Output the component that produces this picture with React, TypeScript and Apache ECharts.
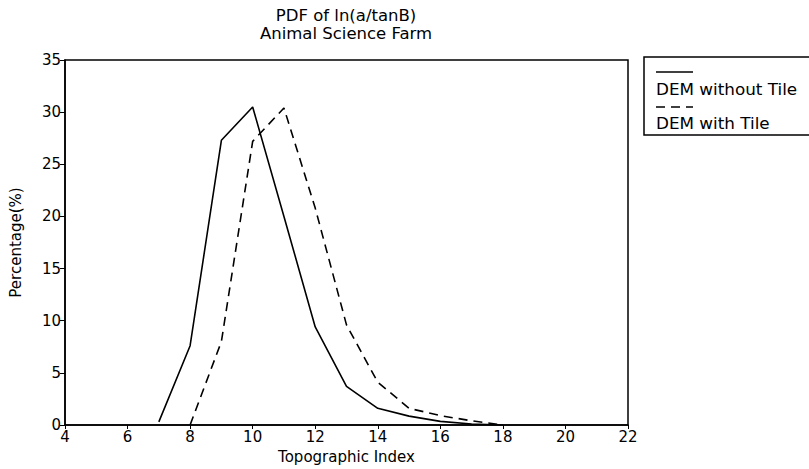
import React, { useEffect, useRef } from "react";
import * as echarts from "echarts";

const titleLines = ["PDF of ln(a/tanB)", "Animal Science Farm"];
const xAxisName = "Topographic Index";
const yAxisName = "Percentage(%)";
const seriesNames = ["DEM without Tile", "DEM with Tile"];

const withoutTileX = [7, 8, 9, 10, 11, 12, 13, 14, 15, 16, 17, 18];
const withoutTileY = [0.3, 7.6, 27.3, 30.5, 20.0, 9.4, 3.7, 1.6, 0.85, 0.35, 0.1, 0];

const withTileX = [8, 9, 10, 11, 12, 13, 14, 15, 16, 17, 18];
const withTileY = [0, 8.0, 27.2, 30.4, 20.8, 9.6, 4.1, 1.6, 0.9, 0.4, 0];

const xMin = 4, xMax = 22, xStep = 2;
const yMin = 0, yMax = 35, yStep = 5;

const FONT = "DejaVu Sans, Verdana, sans-serif";

export default function App() {
  const ref = useRef<HTMLDivElement>(null);
  useEffect(() => {
    if (!ref.current) return;
    const chart = echarts.init(ref.current, undefined, { renderer: "svg" });
    const zip = (xs: number[], ys: number[]) => xs.map((x, i) => [x, ys[i]]);
    chart.setOption({
      animation: false,
      backgroundColor: "#fff",
      textStyle: { fontFamily: FONT, color: "#000" },
      title: {
        text: titleLines.join("\n"),
        left: 341,
        top: 1,
        textAlign: "center",
        textStyle: { fontFamily: FONT, fontSize: 16.5, fontWeight: "normal", color: "#000", lineHeight: 18 },
      },
      grid: {
        left: 65,
        right: 181,
        top: 60,
        bottom: 44,
        show: true,
        borderColor: "#000",
        borderWidth: 1.5,
        backgroundColor: "transparent",
      },
      xAxis: {
        type: "value",
        min: xMin,
        max: xMax,
        interval: xStep,
        name: xAxisName,
        nameLocation: "middle",
        nameGap: 24,
        nameTextStyle: { fontFamily: FONT, fontSize: 15, color: "#000" },
        axisLine: { lineStyle: { color: "#000", width: 1.5 } },
        axisTick: { show: true, length: 4, lineStyle: { color: "#000" } },
        axisLabel: { fontFamily: FONT, fontSize: 15, color: "#000", margin: 4 },
        splitLine: { show: false },
      },
      yAxis: {
        type: "value",
        min: yMin,
        max: yMax,
        interval: yStep,
        name: yAxisName,
        nameLocation: "middle",
        nameGap: 42,
        nameTextStyle: { fontFamily: FONT, fontSize: 15, color: "#000" },
        axisLine: { show: true, lineStyle: { color: "#000", width: 1.5 } },
        axisTick: { show: true, length: 5, lineStyle: { color: "#000" } },
        axisLabel: { fontFamily: FONT, fontSize: 15, color: "#000", margin: 4 },
        splitLine: { show: false },
      },
      series: [
        {
          name: seriesNames[0],
          type: "line",
          data: zip(withoutTileX, withoutTileY),
          showSymbol: false,
          symbol: "none",
          lineStyle: { color: "#000", width: 1.6, type: "solid" },
        },
        {
          name: seriesNames[1],
          type: "line",
          data: zip(withTileX, withTileY),
          showSymbol: false,
          symbol: "none",
          lineStyle: { color: "#000", width: 1.6, type: [9, 6] },
        },
      ],
      graphic: [
        {
          type: "rect",
          shape: { x: 644, y: 57, width: 170, height: 78 },
          style: { fill: "none", stroke: "#000", lineWidth: 1.5 },
        },
        {
          type: "line",
          shape: { x1: 656, y1: 72, x2: 693, y2: 72 },
          style: { stroke: "#000", lineWidth: 1.5 },
        },
        {
          type: "text",
          x: 656,
          y: 90,
          scaleX: 1.12,
          style: { text: seriesNames[0], font: `15px ${FONT}`, fill: "#000", verticalAlign: "middle" },
        },
        {
          type: "line",
          shape: { x1: 656, y1: 107, x2: 693, y2: 107 },
          style: { stroke: "#000", lineWidth: 1.5, lineDash: [9, 6] },
        },
        {
          type: "text",
          x: 656,
          y: 124,
          scaleX: 1.12,
          style: { text: seriesNames[1], font: `15px ${FONT}`, fill: "#000", verticalAlign: "middle" },
        },
      ],
    });
    return () => chart.dispose();
  }, []);
  return <div ref={ref} style={{ width: 809, height: 469, position: "absolute", left: 0, top: 0 }} />;
}
